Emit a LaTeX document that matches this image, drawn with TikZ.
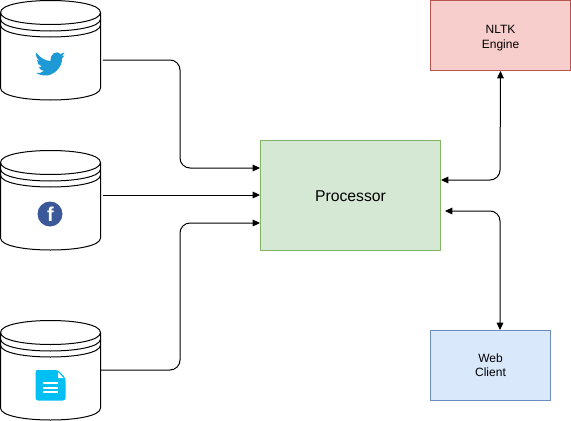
\documentclass[tikz,border=0pt]{standalone}
\usepackage{fontspec}
\setmainfont{Liberation Sans}
\usetikzlibrary{arrows.meta}
\tikzset{
 x=0.75pt,y=-0.75pt,
 cylline/.style={draw=black,line width=0.75pt},
 cylbox/.style={inner sep=0pt,minimum width=75pt,minimum height=75pt,draw=none},
 conn/.style={draw=black,line width=0.75pt,rounded corners=7.5pt,-{Triangle[length=5.5pt,width=5pt]}},
 conn2/.style={draw=black,line width=0.75pt,rounded corners=7.5pt,{Triangle[length=5.5pt,width=5pt]}-{Triangle[length=5.5pt,width=5pt]}},
 proc/.style={draw=procb,fill=procf,line width=0.75pt,minimum width=135pt,minimum height=82.5pt,inner sep=0pt,font=\fontsize{11.8}{14}\selectfont},
 redbox/.style={draw=redb,fill=redf,line width=0.75pt,minimum width=105pt,minimum height=52.5pt,inner sep=0pt,align=center,font=\fontsize{9}{11}\selectfont},
 bluebox/.style={draw=blueb,fill=bluef,line width=0.75pt,minimum width=90pt,minimum height=52.5pt,inner sep=0pt,align=center,font=\fontsize{9}{10.5}\selectfont},
}
\definecolor{procb}{HTML}{82B366}\definecolor{procf}{HTML}{D5E8D4}
\definecolor{redb}{HTML}{B85450}\definecolor{redf}{HTML}{F8CECC}
\definecolor{blueb}{HTML}{6C8EBF}\definecolor{bluef}{HTML}{DAE8FC}
\definecolor{twblue}{HTML}{1D9AD6}\definecolor{fbblue}{HTML}{3B5998}\definecolor{docblue}{HTML}{00BFF3}
\newcommand{\drumshape}[1]{%
 \begin{scope}[yshift=-0.75pt*#1]
  \path[cylline,fill=white] (0.5,12.5) .. controls (0.5,-3.5) and (100.5,-3.5) .. (100.5,12.5)
    -- (100.5,88) .. controls (100.5,104) and (0.5,104) .. (0.5,88) -- cycle;
  \path[cylline] (0.5,12.5) .. controls (0.5,28.5) and (100.5,28.5) .. (100.5,12.5);
  \path[cylline] (0.5,19) .. controls (0.5,35) and (100.5,35) .. (100.5,19);
  \path[cylline] (0.5,25) .. controls (0.5,41) and (100.5,41) .. (100.5,25);
 \end{scope}}
\begin{document}
\begin{tikzpicture}
\useasboundingbox (0,0) rectangle (571,421);
\drumshape{0}\drumshape{150}\drumshape{320}
\node[cylbox] (twitter) at (50.5,50) {};
\node[cylbox] (facebook) at (50.5,200) {};
\node[cylbox] (docs) at (50.5,370) {};
% bird
\fill[twblue] (36,52.5) .. controls (41,58.5) and (45,60.5) .. (50.5,61)
 .. controls (49.5,54.5) and (56.5,49.5) .. (60.5,54) .. controls (62,54) and (63,53.5) .. (64.5,52.5)
 .. controls (64,54) and (63.5,55) .. (62,56) .. controls (63,56) and (63.5,55.5) .. (64.5,55.5)
 .. controls (63.5,57) and (63,57.5) .. (62,58.5)
 .. controls (62.5,67) and (53.5,76.5) .. (44,75.5) .. controls (41.5,75) and (38,74.5) .. (36,73)
 .. controls (39,73.5) and (42,72.5) .. (44,71) .. controls (41,70.5) and (39.5,69) .. (39,67)
 .. controls (40,67) and (41,67) .. (42,66.5) .. controls (39,66) and (37,63) .. (37,60)
 .. controls (38,60.5) and (39,61) .. (40,61) .. controls (37,59) and (35.5,56) .. (36,52.5) -- cycle;
% facebook
\fill[fbblue] (50,214) circle[radius=12.5];
\node[text=white,inner sep=0pt,font=\fontsize{15}{15}\bfseries\selectfont] (fglyph) at (50.5,214.5) {f};
% doc
\fill[docblue,rounded corners=2pt] (36,370) -- (58,370) -- (65.5,378) -- (65.5,400.5) -- (35.5,400.5) -- (35.5,370) -- cycle;
\fill[white] (58,372) -- (63.5,378) -- (58,378) -- cycle;
\foreach \yy in {382,386.5,391}{\fill[white] (43,\yy) rectangle (57.5,\yy+2);}
% boxes
\node[proc] (processor) at (350.5,195.5) {\rule{0pt}{8.9pt}Processor};
\node[redbox] (nltk) at (500.5,35.5) {\rule{0pt}{10.5pt}NLTK\\Engine};
\node[bluebox] (web) at (490.5,365.5) {Web\\Client};
% connector ends
\coordinate (t1) at ([xshift=1.5pt]twitter.east |- 0,60);
\coordinate (f1) at ([xshift=1.5pt]facebook.east |- 0,195);
\coordinate (d1) at (docs.east |- 0,370);
\coordinate (p1) at (processor.west |- 0,168);
\coordinate (p2) at (processor.west |- 0,195);
\coordinate (p3) at (processor.west |- 0,223);
\coordinate (p4) at (processor.east |- 0,180);
\coordinate (p5) at ([xshift=3pt]processor.east |- 0,211);
\coordinate (w1) at (500,0 |- web.north);
\draw[conn] (t1) -- (180,60) -- (180,168) -- (p1);
\draw[conn] (f1) -- (p2);
\draw[conn] (d1) -- (180,370) -- (180,223) -- (p3);
\draw[conn2] (p4) -- (500,180) -- (nltk.south);
\draw[conn2] (p5) -- (500,211) -- (w1);
\end{tikzpicture}
\end{document}
